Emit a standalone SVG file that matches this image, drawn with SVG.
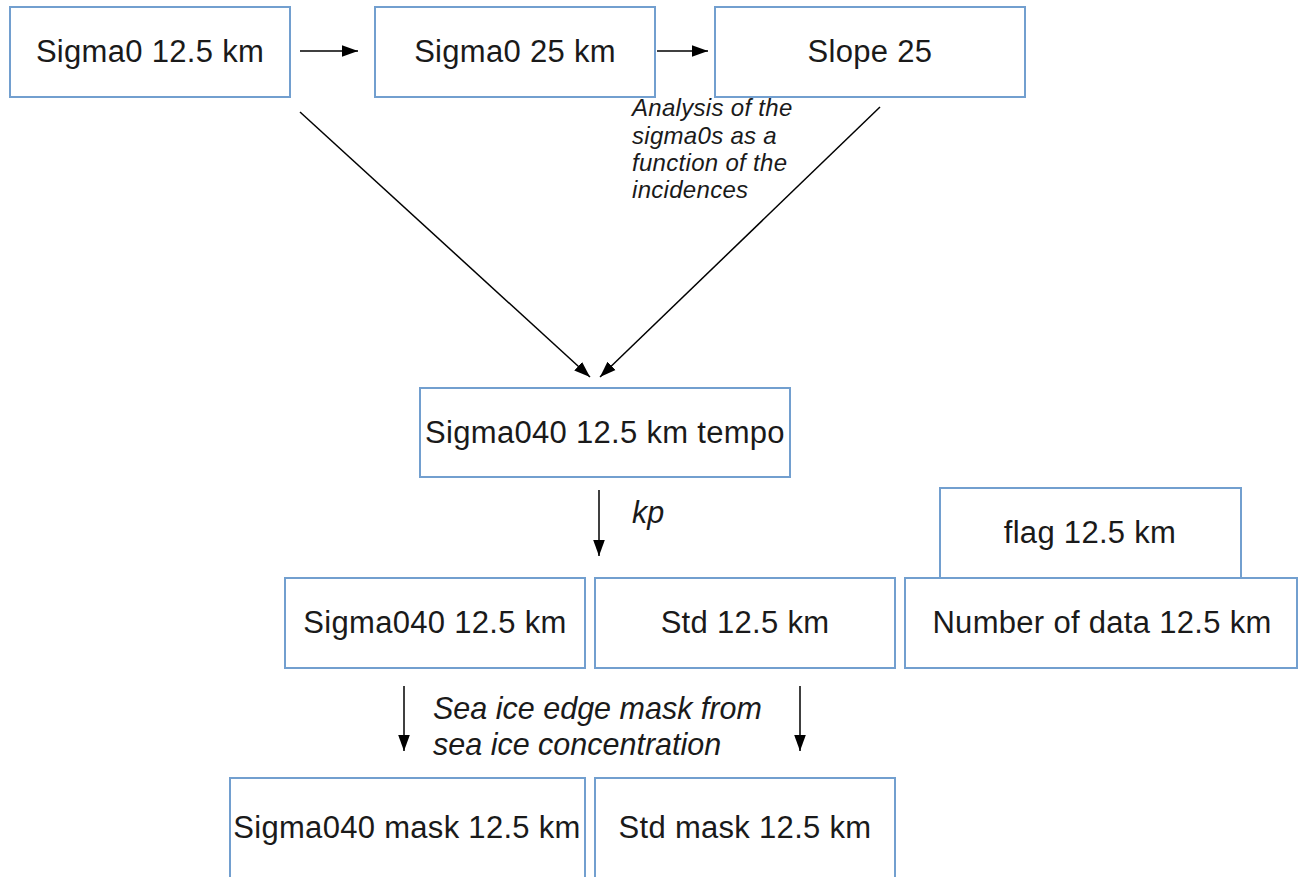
<svg xmlns="http://www.w3.org/2000/svg" width="1302" height="877" viewBox="0 0 1302 877">
<style>
.box{fill:#fff;stroke:#729fcf;stroke-width:2}
.t{font-family:"Liberation Sans",Arial,sans-serif;font-size:31px;letter-spacing:0.3px;fill:#1a1a1a;text-anchor:middle}
.l{font-family:"Liberation Sans",Arial,sans-serif;font-size:30.5px;font-style:italic;fill:#1a1a1a}
.s{font-family:"Liberation Sans",Arial,sans-serif;font-size:24px;letter-spacing:0.3px;font-style:italic;fill:#1a1a1a}
.c{stroke:#000;stroke-width:1.5;fill:none;marker-end:url(#ah)}
</style>
<defs>
<marker id="ah" markerUnits="userSpaceOnUse" markerWidth="16" markerHeight="22" viewBox="0 0 22 16" refX="22" refY="8" orient="auto">
<path d="M0,0 L22,8 L0,16 Z" fill="#000"/>
</marker>
</defs>
<rect width="1302" height="877" fill="#fff"/>
<g id="connectors">
<line class="c" x1="300" y1="51" x2="358" y2="51"/>
<line class="c" x1="657" y1="51" x2="708" y2="51"/>
<line class="c" x1="300" y1="112" x2="590" y2="377"/>
<line class="c" x1="880" y1="107" x2="600" y2="377"/>
<line class="c" x1="599" y1="490" x2="599" y2="556"/>
<line class="c" x1="404" y1="686" x2="404" y2="751"/>
<line class="c" x1="800" y1="686" x2="800" y2="751"/>
<text class="s" x="632" y="116">Analysis of the</text>
<text class="s" x="632" y="144">sigma0s as a</text>
<text class="s" x="632" y="171">function of the</text>
<text class="s" x="632" y="198">incidences</text>
<text class="l" x="632" y="523">kp</text>
<text class="l" x="433" y="719">Sea ice edge mask from</text>
<text class="l" x="433" y="755">sea ice concentration</text>
</g>
<g id="n1"><rect class="box" x="10" y="7" width="280" height="90"/><text class="t" x="150" y="62">Sigma0 12.5 km</text></g>
<g id="n2"><rect class="box" x="375" y="7" width="280" height="90"/><text class="t" x="515" y="62">Sigma0 25 km</text></g>
<g id="n3"><rect class="box" x="715" y="7" width="310" height="90"/><text class="t" x="870" y="62">Slope 25</text></g>
<g id="n4"><rect class="box" x="420" y="388" width="370" height="89"/><text class="t" x="605" y="443">Sigma040 12.5 km tempo</text></g>
<g id="n5"><rect class="box" x="940" y="488" width="301" height="90"/><text class="t" x="1090" y="543">flag 12.5 km</text></g>
<g id="n6"><rect class="box" x="285" y="578" width="300" height="90"/><text class="t" x="435" y="633">Sigma040 12.5 km</text></g>
<g id="n7"><rect class="box" x="595" y="578" width="300" height="90"/><text class="t" x="745" y="633">Std 12.5 km</text></g>
<g id="n8"><rect class="box" x="905" y="578" width="392" height="90"/><text class="t" x="1102" y="633">Number of data 12.5 km</text></g>
<g id="n9"><rect class="box" x="230" y="778" width="355" height="110"/><text class="t" x="407" y="838">Sigma040 mask 12.5 km</text></g>
<g id="n10"><rect class="box" x="595" y="778" width="300" height="110"/><text class="t" x="745" y="838">Std mask 12.5 km</text></g>
</svg>
